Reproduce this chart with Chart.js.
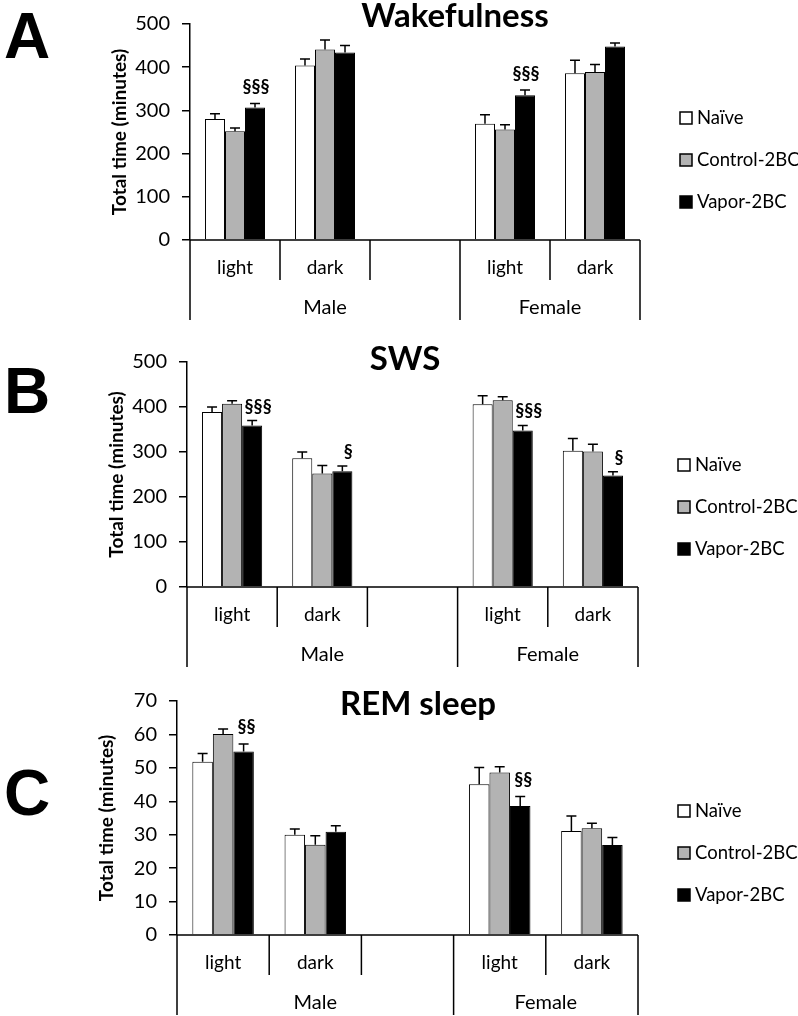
<!DOCTYPE html>
<html>
<head>
<meta charset="utf-8">
<script src="https://cdn.jsdelivr.net/npm/chart.js@4.4.0/dist/chart.umd.min.js"></script>
<style>
  body { margin: 0; background: #fff; }
  #wrap { position: relative; width: 798px; height: 1016px; }
  canvas { position: absolute; left: 0; }
</style>
</head>
<body>
<div id="wrap">
  <canvas id="wake" width="798" height="338" style="top:0px"></canvas>
  <canvas id="sws" width="798" height="338" style="top:338px"></canvas>
  <canvas id="rem" width="798" height="340" style="top:676px"></canvas>
</div>
<script>
// Categories
const periods = ['light', 'dark', '', 'light', 'dark'];
const groups = ['Male', 'Female'];
const groupSlots = [3, 2];
const treatments = ['Naïve', 'Control-2BC', 'Vapor-2BC'];

// Wakefulness (minutes) and SEM
const wakeNaive = [280, 404, null, 269, 386];
const wakeNaiveSem = [12, 15, null, 21, 30];
const wakeControl = [252, 441, null, 256, 389];
const wakeControlSem = [7, 22, null, 11, 17];
const wakeVapor = [307, 434, null, 335, 448];
const wakeVaporSem = [9, 16, null, 12, 8];
const wakeSig = ['§§§', '', '', '§§§', ''];

// SWS
const swsNaive = [389, 286, null, 406, 303];
const swsNaiveSem = [11, 14, null, 19, 27];
const swsControl = [407, 252, null, 415, 301];
const swsControlSem = [7, 18, null, 8, 16];
const swsVapor = [359, 257, null, 348, 248];
const swsVaporSem = [11, 12, null, 11, 8];
const swsSig = ['§§§', '§', '', '§§§', '§'];

// REM sleep
const remNaive = [51.8, 30.0, null, 45.1, 31.1];
const remNaiveSem = [2.5, 1.7, null, 5.0, 4.5];
const remControl = [60.1, 27.0, null, 48.6, 31.9];
const remControlSem = [1.5, 2.7, null, 1.7, 1.5];
const remVapor = [54.9, 30.9, null, 38.6, 26.9];
const remVaporSem = [2.2, 1.8, null, 2.8, 2.3];
const remSig = ['§§', '', '', '§§', ''];

const fills = ['#ffffff', '#b3b3b3', '#000000'];

Chart.defaults.font.family = 'Lato, "Open Sans", sans-serif';
Chart.defaults.color = '#000';

// draws the upper error whiskers
const errorBars = {
  id: 'errorBars',
  afterDatasetsDraw(chart) {
    const ctx = chart.ctx;
    const y = chart.scales.y;
    ctx.save();
    ctx.strokeStyle = '#000';
    ctx.lineWidth = 1.5;
    chart.data.datasets.forEach((ds, i) => {
      chart.getDatasetMeta(i).data.forEach((bar, j) => {
        const v = ds.data[j];
        if (v == null) return;
        const top = y.getPixelForValue(v + ds.sem[j]);
        ctx.beginPath();
        ctx.moveTo(bar.x, bar.y);
        ctx.lineTo(bar.x, top);
        ctx.moveTo(bar.x - 5, top);
        ctx.lineTo(bar.x + 5, top);
        ctx.stroke();
      });
    });
    ctx.restore();
  }
};

// axis table, labels, legend, titles
const decor = {
  id: 'decor',
  afterDraw(chart, args, o) {
    const ctx = chart.ctx;
    const { left, right, top, bottom } = chart.chartArea;
    const x = chart.scales.x;
    const y = chart.scales.y;
    const w = (right - left) / periods.length;
    ctx.save();
    ctx.strokeStyle = '#000';
    ctx.lineWidth = 1.5;
    ctx.beginPath();
    ctx.moveTo(left, bottom);
    ctx.lineTo(right, bottom);
    const longAt = [0];
    groupSlots.reduce((s, n) => { longAt.push(s + n); return s + n; }, 0);
    for (let k = 0; k <= periods.length; k++) {
      const px = left + k * w;
      const len = longAt.includes(k) ? 80 : 40;
      ctx.moveTo(px, bottom);
      ctx.lineTo(px, bottom + len);
    }
    ctx.stroke();

    ctx.fillStyle = '#000';
    ctx.textAlign = 'center';
    ctx.textBaseline = 'middle';
    ctx.font = '19px Lato';
    periods.forEach((p, i) => {
      if (p) ctx.fillText(p, x.getPixelForValue(i), bottom + 28);
    });
    ctx.font = '20px Lato';
    let start = 0;
    groups.forEach((g, i) => {
      const cx = left + (start + groupSlots[i] / 2) * w;
      ctx.fillText(g, cx, bottom + 68);
      start += groupSlots[i];
    });

    // significance marks above vapor bars
    const vMeta = chart.getDatasetMeta(2);
    const vDs = chart.data.datasets[2];
    ctx.font = 'bold 18px Lato';
    ctx.textBaseline = 'alphabetic';
    o.sig.forEach((s, j) => {
      if (!s) return;
      const bar = vMeta.data[j];
      const t = y.getPixelForValue(vDs.data[j] + vDs.sem[j]);
      ctx.fillText(s, bar.x + o.sigDx, t - o.sigGap);
    });

    // y title
    ctx.save();
    ctx.translate(left - 70, (top + bottom) / 2);
    ctx.rotate(-Math.PI / 2);
    ctx.font = 'bold 19px Lato';
    ctx.textBaseline = 'middle';
    ctx.fillText('Total time (minutes)', 0, 0);
    ctx.restore();

    // legend
    const offs = [-122, -80, -38];
    ctx.font = '18.5px Lato';
    ctx.textAlign = 'left';
    ctx.textBaseline = 'middle';
    treatments.forEach((t, i) => {
      const cy = bottom + offs[i] + o.legendDy;
      ctx.fillStyle = fills[i];
      ctx.fillRect(right + 40, cy - 6, 12, 12);
      ctx.strokeRect(right + 40, cy - 6, 12, 12);
      ctx.fillStyle = '#000';
      ctx.fillText(t, right + 57, cy);
    });

    // panel title and letter
    ctx.textAlign = 'center';
    ctx.textBaseline = 'alphabetic';
    ctx.font = 'bold 33px Lato';
    ctx.fillText(o.title, o.titleX, o.titleY);
    ctx.textAlign = 'left';
    ctx.font = 'bold 64px "Liberation Sans"';
    ctx.fillText(o.letter, 4, o.letterY);
    ctx.restore();
  }
};

function makePanel(id, series, sems, yMax, step, pad, deco) {
  return new Chart(document.getElementById(id), {
    type: 'bar',
    data: {
      labels: periods,
      datasets: treatments.map((t, i) => ({
        label: t,
        data: series[i],
        sem: sems[i],
        backgroundColor: fills[i],
        borderColor: '#000',
        borderWidth: 1,
        categoryPercentage: 0.667,
        barPercentage: 1.0
      }))
    },
    options: {
      responsive: false,
      animation: false,
      layout: { padding: pad },
      plugins: { legend: { display: false }, tooltip: { enabled: false }, decor: deco },
      scales: {
        x: { display: false },
        y: {
          min: 0,
          max: yMax,
          ticks: { stepSize: step, padding: 12, font: { size: 20 }, color: '#000' },
          grid: { drawOnChartArea: false, drawTicks: true, tickLength: 8, color: '#000', lineWidth: 1.5 },
          border: { display: true, color: '#000', width: 1.5 },
          afterFit(s) { s.width = 100; }
        }
      }
    },
    plugins: [errorBars, decor]
  });
}

makePanel('wake',
  [wakeNaive, wakeControl, wakeVapor],
  [wakeNaiveSem, wakeControlSem, wakeVaporSem],
  500, 100,
  { left: 90, right: 158, top: 12, bottom: 98 },
  { letter: 'A', letterY: 58, title: 'Wakefulness', titleX: 455, titleY: 27, sig: wakeSig, sigDx: 1, sigGap: 10, legendDy: 0 });

makePanel('sws',
  [swsNaive, swsControl, swsVapor],
  [swsNaiveSem, swsControlSem, swsVaporSem],
  500, 100,
  { left: 87, right: 160, top: 19, bottom: 89 },
  { letter: 'B', letterY: 75, title: 'SWS', titleX: 405, titleY: 32, sig: swsSig, sigDx: 6, sigGap: 8, legendDy: 0 });

makePanel('rem',
  [remNaive, remControl, remVapor],
  [remNaiveSem, remControlSem, remVaporSem],
  70, 10,
  { left: 77, right: 160, top: 25, bottom: 81 },
  { letter: 'C', letterY: 139, title: 'REM sleep', titleX: 418, titleY: 39, sig: remSig, sigDx: 3, sigGap: 11, legendDy: -2 });
</script>
</body>
</html>
